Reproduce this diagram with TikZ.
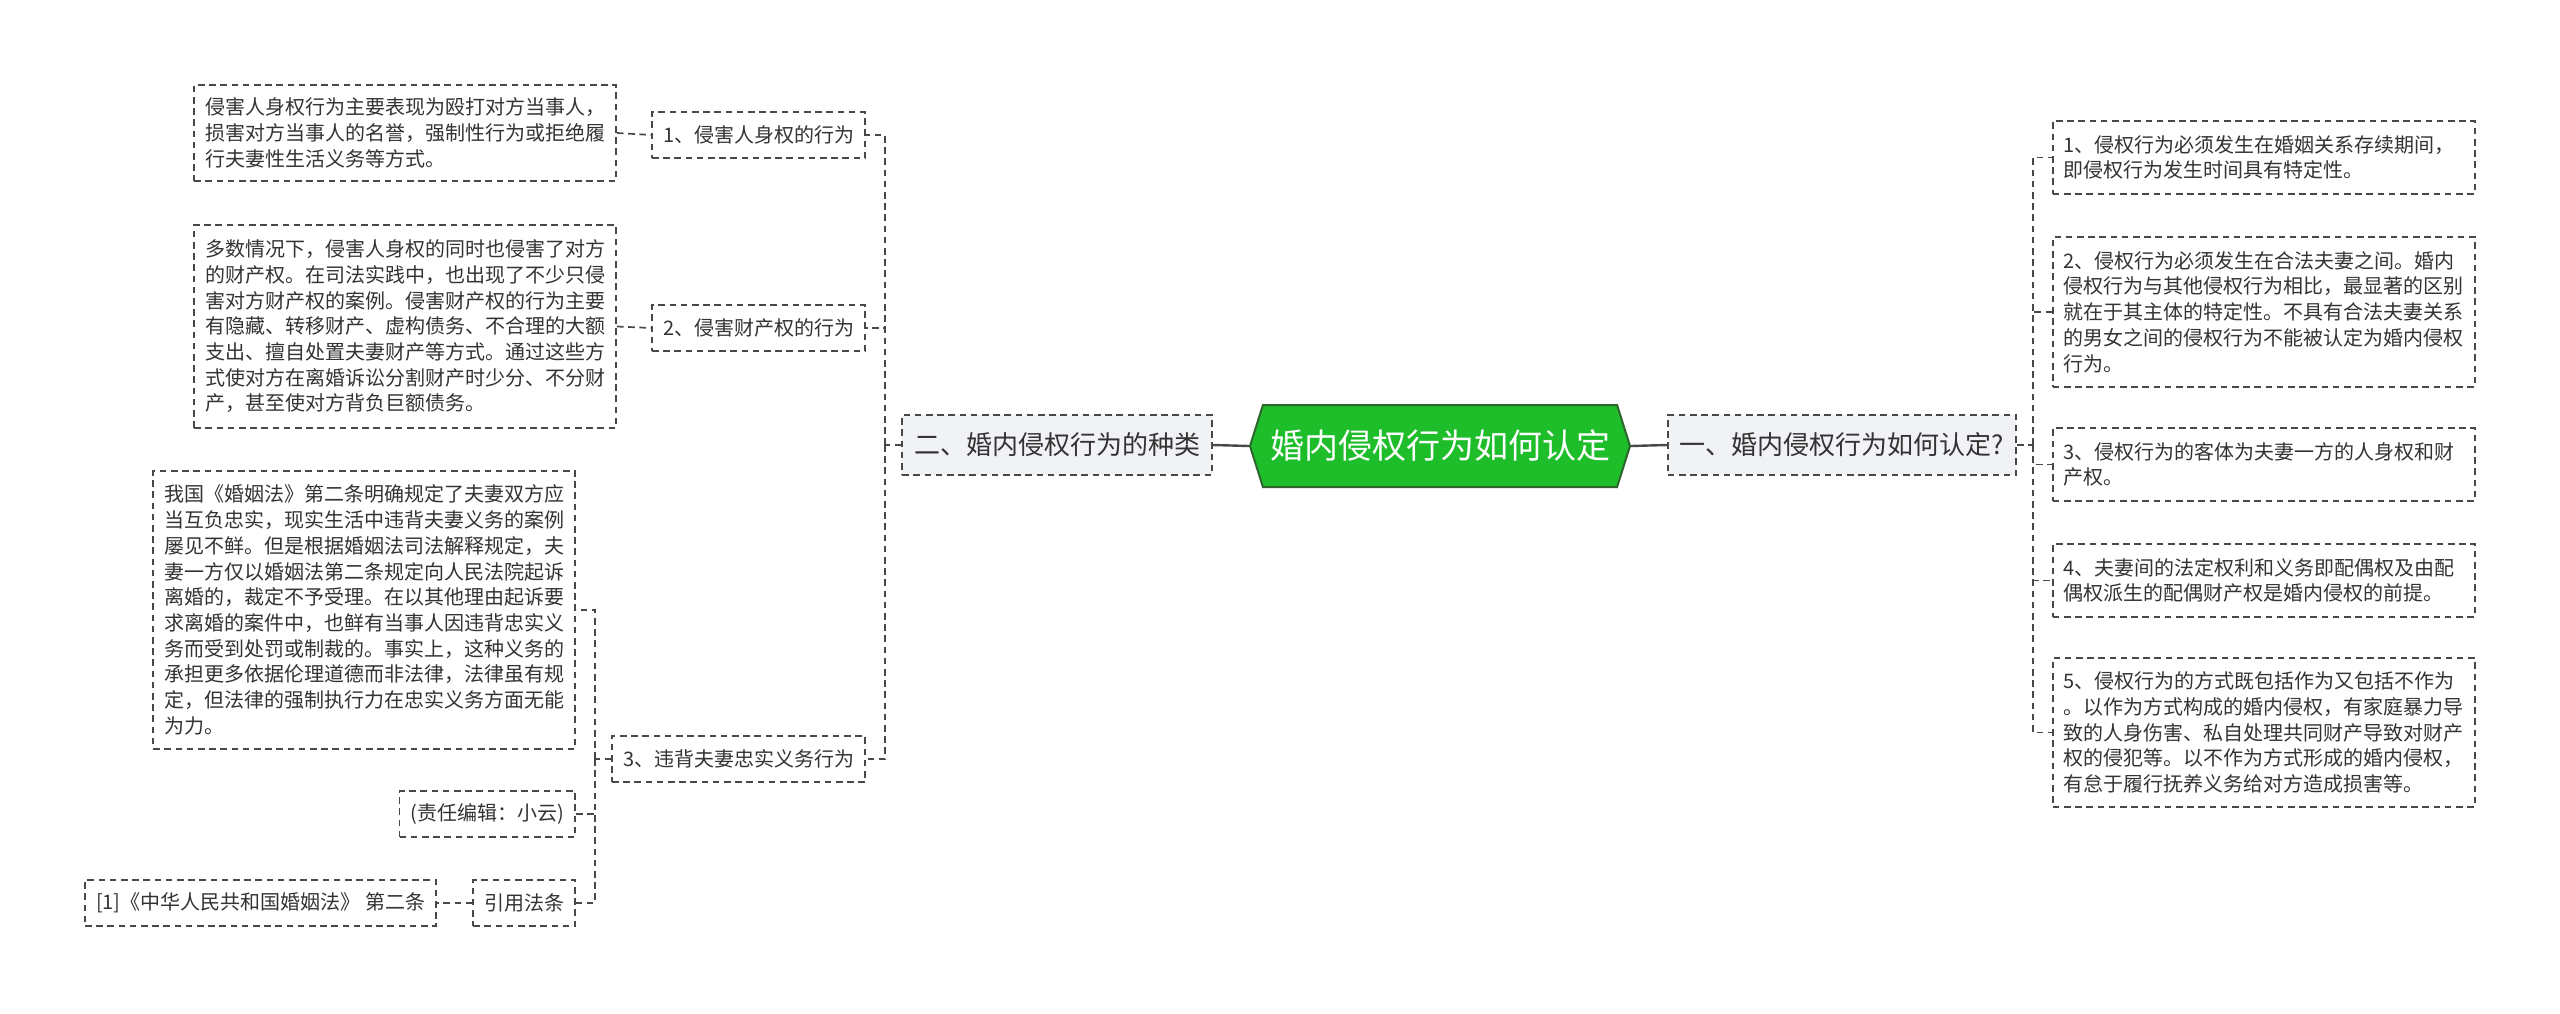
\documentclass[tikz,border=0pt]{standalone}
\usepackage{fontspec}
\setmainfont{Noto Sans CJK SC}
\usepackage{tikz}
\usetikzlibrary{positioning,shapes.symbols}
\definecolor{lnc}{RGB}{72,72,72}
\definecolor{txc}{RGB}{51,51,51}
\definecolor{rtg}{RGB}{30,190,42}
\definecolor{rtb}{RGB}{46,100,46}
\definecolor{bgc}{RGB}{240,242,245}

\begin{document}
\begin{tikzpicture}[x=0.5pt,y=-0.5pt,
  box/.style={draw=lnc,dash pattern=on 3.3pt off 2.3pt,line width=0.85pt,text=txc,inner xsep=5.5pt,font=\fontsize{10pt}{12.85pt}\selectfont},
  leaf/.style={box,text width=200pt,align=left,fill=white},
  lbl/.style={box,minimum height=23pt,fill=white},
  branch/.style={box,fill=bgc,minimum height=30pt,inner xsep=6pt,font=\fontsize{13pt}{15pt}\selectfont},
  link/.style={draw=lnc,dash pattern=on 3.3pt off 2.3pt,line width=0.85pt}]
  \useasboundingbox (0,0) rectangle (2560,1013);
  % centre and the two branches
  \node[signal,signal to=east and west,signal pointer angle=145,fill=rtg,draw=rtb,line width=1pt,text=white,
    minimum height=41pt,minimum width=190pt,font=\fontsize{17pt}{20pt}\selectfont] (root) at (1440,446) {婚内侵权行为如何认定};
  \node[branch,anchor=east] (b2) at (1213,445) {二、婚内侵权行为的种类};
  \node[branch,anchor=west] (b1) at (1667,445) {一、婚内侵权行为如何认定?};
  \draw[lnc,line width=1.2pt] (root.west) -- (b2.east);
  \draw[lnc,line width=1.2pt] (root.east) -- (b1.west);
  % right side
  \node[leaf,minimum height=36.5pt,anchor=west] (r1) at (2052,157.5) {1、侵权行为必须发生在婚姻关系存续期间，\\即侵权行为发生时间具有特定性。};
  \node[leaf,minimum height=75pt,anchor=west] (r2) at (2052,312) {2、侵权行为必须发生在合法夫妻之间。婚内\\侵权行为与其他侵权行为相比，最显著的区别\\就在于其主体的特定性。不具有合法夫妻关系\\的男女之间的侵权行为不能被认定为婚内侵权\\行为。};
  \node[leaf,minimum height=36.5pt,anchor=west] (r3) at (2052,464.5) {3、侵权行为的客体为夫妻一方的人身权和财\\产权。};
  \node[leaf,minimum height=36.5pt,anchor=west] (r4) at (2052,580.5) {4、夫妻间的法定权利和义务即配偶权及由配\\偶权派生的配偶财产权是婚内侵权的前提。};
  \node[leaf,minimum height=74.5pt,anchor=west] (r5) at (2052,732.5) {5、侵权行为的方式既包括作为又包括不作为\\。以作为方式构成的婚内侵权，有家庭暴力导\\致的人身伤害、私自处理共同财产导致对财产\\权的侵犯等。以不作为方式形成的婚内侵权，\\有怠于履行抚养义务给对方造成损害等。};
  \coordinate (rj) at (2033,445);
  \draw[link] (b1.east) -- (rj);
  \foreach \n in {r1,r2,r3,r4,r5} \draw[link] (rj) |- (\n.west);
  % left side
  \node[lbl,anchor=east] (l1) at (866,135) {1、侵害人身权的行为};
  \node[lbl,anchor=east] (l2) at (866,328) {2、侵害财产权的行为};
  \node[lbl,anchor=east] (l3) at (866,759) {3、违背夫妻忠实义务行为};
  \coordinate (lj) at (885,445);
  \draw[link] (b2.west) -- (lj);
  \foreach \n in {l1,l2,l3} \draw[link] (lj) |- (\n.east);
  \node[leaf,minimum height=48pt,anchor=east] (l1t) at (617,133) {侵害人身权行为主要表现为殴打对方当事人，\\损害对方当事人的名誉，强制性行为或拒绝履\\行夫妻性生活义务等方式。};
  \node[leaf,minimum height=101.5pt,anchor=east] (l2t) at (617,326.5) {多数情况下，侵害人身权的同时也侵害了对方\\的财产权。在司法实践中，也出现了不少只侵\\害对方财产权的案例。侵害财产权的行为主要\\有隐藏、转移财产、虚构债务、不合理的大额\\支出、擅自处置夫妻财产等方式。通过这些方\\式使对方在离婚诉讼分割财产时少分、不分财\\产，甚至使对方背负巨额债务。};
  \draw[link] (l1t.east) -- (l1.west);
  \draw[link] (l2t.east) -- (l2.west);
  \node[leaf,minimum height=139pt,anchor=east] (l3t) at (576,610) {我国《婚姻法》第二条明确规定了夫妻双方应\\当互负忠实，现实生活中违背夫妻义务的案例\\屡见不鲜。但是根据婚姻法司法解释规定，夫\\妻一方仅以婚姻法第二条规定向人民法院起诉\\离婚的，裁定不予受理。在以其他理由起诉要\\求离婚的案件中，也鲜有当事人因违背忠实义\\务而受到处罚或制裁的。事实上，这种义务的\\承担更多依据伦理道德而非法律，法律虽有规\\定，但法律的强制执行力在忠实义务方面无能\\为力。};
  \node[lbl,anchor=east] (ed) at (576,814) {(责任编辑：小云)};
  \node[lbl,anchor=east] (cite) at (576,903) {引用法条};
  \node[lbl,anchor=east] (ref) at (437,903) {[1]《中华人民共和国婚姻法》 第二条};
  \coordinate (sj) at (595,759);
  \draw[link] (l3.west) -- (sj);
  \foreach \n in {l3t,ed,cite} \draw[link] (sj) |- (\n.east);
  \draw[link] (cite.west) -- (ref.east);
\end{tikzpicture}
\end{document}
